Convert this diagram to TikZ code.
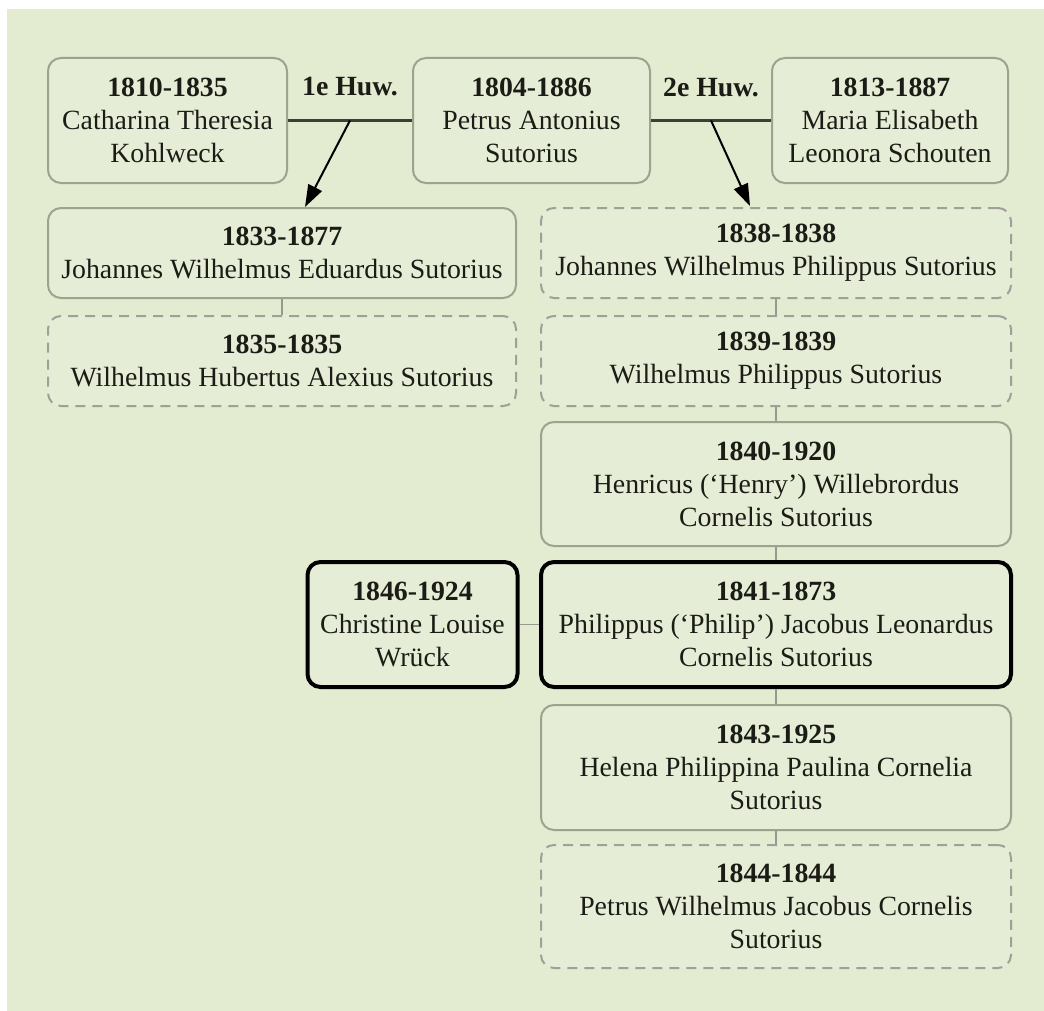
\documentclass[tikz,border=0pt]{standalone}
\usepackage{fontspec}
\setmainfont{Liberation Serif}
\usepackage{tikz}
\usetikzlibrary{arrows.meta}

\definecolor{bggreen}{RGB}{227,235,209}
\definecolor{boxfill}{RGB}{229,237,214}
\definecolor{boxline}{RGB}{158,163,143}
\definecolor{dashline}{RGB}{160,160,152}
\definecolor{linkgrey}{RGB}{150,154,140}
\definecolor{ink}{RGB}{28,28,22}

\begin{document}
\begin{tikzpicture}[
    x=0.5pt, y=-0.5pt,
    font=\fontsize{13.9}{16.5}\selectfont,
    text=ink,
    person/.style={draw=boxline, line width=1pt, fill=boxfill, rounded corners=6.5pt,
      align=center, inner sep=0pt, minimum height=62.5pt},
    dead/.style={person, draw=dashline, dash pattern=on 5pt off 3.5pt},
    spouse/.style={person, draw=black, line width=2pt},
    twoline/.style={minimum height=45pt},
    huw/.style={font=\fontsize{13.9}{16.5}\selectfont\bfseries},
    link/.style={draw=linkgrey, line width=0.8pt},
    marr/.style={draw=ink!85, line width=1.2pt},
    kid/.style={-{Triangle[length=11pt,width=7.5pt]}, line width=1pt, black},
  ]
    \useasboundingbox (0,0) rectangle (1044,1011);
    \fill[white] (0,0) rectangle (1044,1011);
    \fill[bggreen] (7,9) rectangle (1044,1011);

    % ouders
    \node[person, minimum width=119.5pt] (cat) at (167.5,120.5)
      {\textbf{1810-1835}\\Catharina Theresia\\Kohlweck};
    \node[person, minimum width=118.5pt] (pet) at (531.5,120.5)
      {\textbf{1804-1886}\\Petrus Antonius\\Sutorius};
    \node[person, minimum width=118pt] (mar) at (890,120.5)
      {\textbf{1813-1887}\\Maria Elisabeth\\Leonora Schouten};

    \node[huw] (h1) at (350,87) {1e Huw.};
    \node[huw] (h2) at (711,87) {2e Huw.};

    % kinderen 1e huwelijk
    \node[person, twoline, minimum width=234pt] (jwe) at (282,253)
      {\textbf{1833-1877}\\Johannes Wilhelmus Eduardus Sutorius};
    \node[dead, twoline, minimum width=234pt] (wha) at (282,361)
      {\textbf{1835-1835}\\Wilhelmus Hubertus Alexius Sutorius};

    % kinderen 2e huwelijk
    \node[dead, twoline, minimum width=235pt] (jwp) at (776,253)
      {\textbf{1838-1838}\\Johannes Wilhelmus Philippus Sutorius};
    \node[dead, twoline, minimum width=235pt] (wp) at (776,361)
      {\textbf{1839-1839}\\Wilhelmus Philippus Sutorius};
    \node[person, minimum width=235pt, minimum height=62pt] (hen) at (776,484)
      {\textbf{1840-1920}\\Henricus (‘Henry’) Willebrordus\\Cornelis Sutorius};
    \node[spouse, minimum width=235pt] (phi) at (776,624.5)
      {\textbf{1841-1873}\\Philippus (‘Philip’) Jacobus Leonardus\\Cornelis Sutorius};
    \node[spouse, minimum width=105pt] (chr) at (412.5,624.5)
      {\textbf{1846-1924}\\Christine Louise\\Wrück};
    \node[person, minimum width=235pt] (hel) at (776,767.5)
      {\textbf{1843-1925}\\Helena Philippina Paulina Cornelia\\Sutorius};
    \node[dead, minimum width=235pt, minimum height=61.5pt] (pwj) at (776,906.5)
      {\textbf{1844-1844}\\Petrus Wilhelmus Jacobus Cornelis\\Sutorius};

    % huwelijken
    \draw[marr] (cat.east) -- (pet.west);
    \draw[marr] (pet.east) -- (mar.west);
    \coordinate (m1) at (350,120.5);
    \coordinate (m2) at (711,120.5);
    \coordinate (t1) at (305,207);
    \coordinate (t2) at (750,206);
    \draw[kid] (m1) -- (t1);
    \draw[kid] (m2) -- (t2);

    % broers en zussen
    \draw[link] (jwe) -- (wha);
    \foreach \a/\b in {jwp/wp, wp/hen, hen/phi, phi/hel, hel/pwj}
      \draw[link] (\a) -- (\b);
    \draw[link] (chr) -- (phi);
\end{tikzpicture}
\end{document}
